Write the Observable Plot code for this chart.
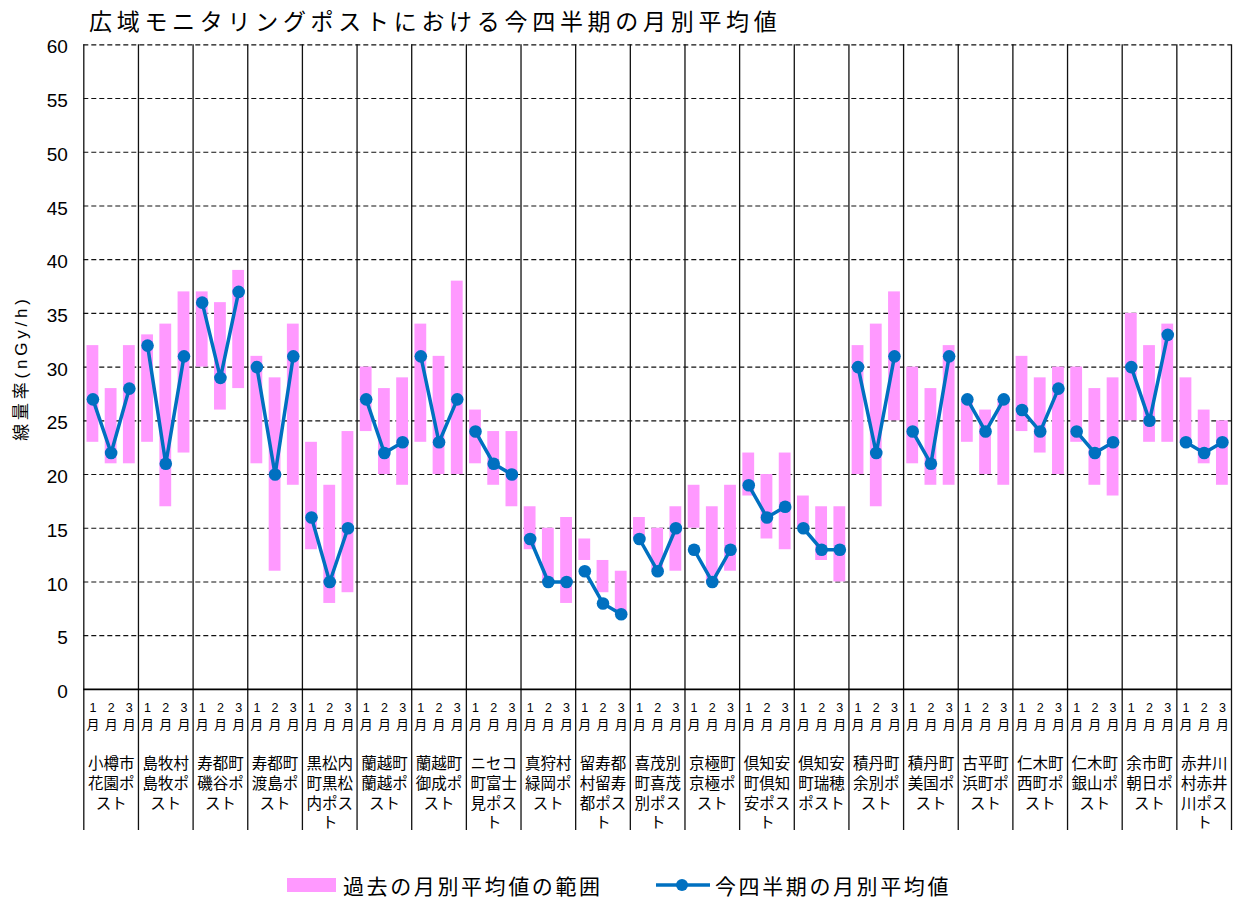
<!DOCTYPE html>
<html>
<head>
<meta charset="utf-8">
<script src="https://cdn.jsdelivr.net/npm/d3@7"></script>
<script src="https://cdn.jsdelivr.net/npm/@observablehq/plot@0.6"></script>
<style>
  html, body { margin: 0; padding: 0; background: #fff; }
  #wrap { position: relative; width: 1240px; height: 899px; font-family: "Noto Sans CJK JP", sans-serif; color: #000; }
  #title { position: absolute; left: 89px; top: 7px; font-size: 23px; line-height: 26px; letter-spacing: 4.7px; white-space: nowrap; }
  #chart { position: absolute; left: 0; top: 0; }
  #ylabel { position: absolute; left: 22px; top: 368px; transform: translate(-50%, -50%) rotate(-90deg); font-family: "Liberation Sans", "Noto Sans CJK JP", sans-serif; font-size: 17px; line-height: 20px; letter-spacing: 3.8px; white-space: nowrap; }
  .lg { position: absolute; top: 872px; font-size: 21px; line-height: 26px; letter-spacing: 2.6px; white-space: nowrap; }
</style>
</head>
<body>
<div id="wrap">
  <div id="chart"></div>
  <div id="title">広域モニタリングポストにおける今四半期の月別平均値</div>
  <div id="ylabel"></div>
  <svg style="position:absolute; left:287px; top:878px" width="50" height="14"><rect x="0" y="0" width="49" height="14" fill="#ff99ff"></rect></svg>
  <div class="lg" style="left:343px">過去の月別平均値の範囲</div>
  <svg style="position:absolute; left:655px; top:876px" width="56" height="18"><line x1="1" y1="9" x2="55" y2="9" stroke="#0070c0" stroke-width="3.5"></line><circle cx="27" cy="9" r="6" fill="#0070c0"></circle></svg>
  <div class="lg" style="left:715px">今四半期の月別平均値</div>
</div>
<script>
const stations = [
  "小樽市花園ポスト","島牧村島牧ポスト","寿都町磯谷ポスト","寿都町渡島ポスト",
  "黒松内町黒松内ポスト","蘭越町蘭越ポスト","蘭越町御成ポスト","ニセコ町富士見ポスト",
  "真狩村緑岡ポスト","留寿都村留寿都ポスト","喜茂別町喜茂別ポスト","京極町京極ポスト",
  "倶知安町倶知安ポスト","倶知安町瑞穂ポスト","積丹町余別ポスト","積丹町美国ポスト",
  "古平町浜町ポスト","仁木町西町ポスト","仁木町銀山ポスト","余市町朝日ポスト","赤井川村赤井川ポスト"
];
const monthNums = ["1", "2", "3"];
const monthUnit = "月";

// 今四半期の月別平均値 (nGy/h)
const currentAvg = [
  [27,22,28],[32,21,31],[36,29,37],[30,20,31],[16,10,15],[27,22,23],[31,23,27],
  [24,21,20],[14,10,10],[11,8,7],[14,11,15],[13,10,13],[19,16,17],[15,13,13],
  [30,22,31],[24,21,31],[27,24,27],[26,24,28],[24,22,23],[30,25,33],[23,22,23]
];
// 過去の月別平均値の範囲 (max)
const pastMax = [
  [32,28,32],[33,34,37],[37,36,39],[31,29,34],[23,19,24],[30,28,29],[34,31,38],
  [26,24,24],[17,15,16],[14,12,11],[16,15,17],[19,17,19],[22,20,22],[18,17,17],
  [32,34,37],[30,28,32],[27,26,27],[31,29,30],[30,28,29],[35,32,34],[29,26,25]
];
// 過去の月別平均値の範囲 (min)
const pastMin = [
  [23,21,21],[23,17,22],[30,26,28],[21,11,19],[13,8,9],[24,20,19],[23,20,20],
  [21,19,17],[13,10,8],[12,9,7],[14,11,11],[15,10,11],[18,14,13],[15,12,10],
  [20,17,25],[21,19,19],[23,20,19],[24,22,20],[23,19,18],[25,23,23],[23,21,19]
];
const yTicks = [0,5,10,15,20,25,30,35,40,45,50,55,60];
const yLabel = "線量率(nGy/h)";
document.getElementById("ylabel").textContent = yLabel;

const rows = [];
stations.forEach((s, i) => {
  monthNums.forEach((m, j) => {
    const idx = i * 3 + j;
    rows.push({station: s, month: m, x1: idx, x2: idx + 1, xc: idx + 0.5,
               cur: currentAvg[i][j], lo: pastMin[i][j], hi: pastMax[i][j]});
  });
});
const wrap3 = (s) => s.match(/.{1,3}/gu).join("\n");
const stationRows = stations.map((s, i) => ({station: s, xc: i * 3 + 1.5, label: wrap3(s)}));
const bounds = d3.range(0, stations.length + 1).map(i => i * 3);

const H = 845;
const cjk = "'Noto Sans CJK JP', sans-serif";
const plot = Plot.plot({
  width: 1240,
  height: H,
  marginLeft: 83.3,
  marginRight: 9,
  marginTop: 44.3,
  marginBottom: H - 688.9,
  style: {fontFamily: "'Liberation Sans', 'Noto Sans CJK JP', sans-serif", background: "white", color: "#000"},
  x: {domain: [0, stations.length * 3], axis: null},
  y: {domain: [0, 60], axis: null},
  marks: [
    Plot.ruleY(yTicks.filter(d => d > 0), {stroke: "#111", strokeWidth: 1.15, strokeDasharray: "5,3"}),
    Plot.rectY(rows, {x1: "x1", x2: "x2", y1: "lo", y2: "hi", fill: "#ff99ff", insetLeft: 3.2, insetRight: 3.2}),
    Plot.ruleX(bounds, {stroke: "#111", strokeWidth: 1.3, insetBottom: -141}),
    Plot.ruleY([0], {stroke: "#000", strokeWidth: 1.6}),
    Plot.line(rows, {x: "xc", y: "cur", z: "station", stroke: "#0070c0", strokeWidth: 3.5}),
    Plot.dot(rows, {x: "xc", y: "cur", r: 6.3, fill: "#0070c0", stroke: "none"}),
    Plot.text(yTicks, {y: d => d, frameAnchor: "left", text: d => String(d), textAnchor: "end", dx: -16, dy: 2.5, fontSize: 19}),
    Plot.text(rows, {x: "xc", text: "month", frameAnchor: "bottom", lineAnchor: "middle", dy: 19, fontSize: 12.5}),
    Plot.text(rows, {x: "xc", text: () => monthUnit, frameAnchor: "bottom", lineAnchor: "middle", dy: 35, fontSize: 13, fontFamily: cjk}),
    Plot.text(stationRows, {x: "xc", text: "label", frameAnchor: "bottom", lineAnchor: "top", dy: 66, fontSize: 15.5, lineHeight: 1.27, fontFamily: cjk})
  ]
});
document.getElementById("chart").appendChild(plot);
</script>
</body>
</html>
